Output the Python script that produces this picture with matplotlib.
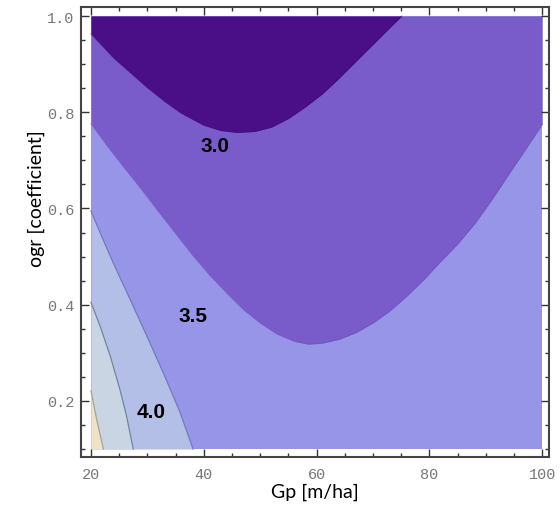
import numpy as np
import matplotlib
matplotlib.use("Agg")
import matplotlib.pyplot as plt

# plotted range of the contour map
gp_range = [20, 100]
ogr_range = [0.1, 1.0]

# contour 3.0 (dark / medium border), ogr as a function of Gp
gp_30 = [20, 22, 24, 27, 30, 33, 36, 40, 43, 46, 49, 52, 55, 58, 61, 64, 67, 70, 73, 75.1]
ogr_30 = [0.963, 0.938, 0.913, 0.882, 0.851, 0.823, 0.798, 0.773, 0.762, 0.758,
          0.760, 0.769, 0.787, 0.811, 0.838, 0.871, 0.906, 0.941, 0.976, 1.0]

# contour 3.5 (medium / light border)
gp_35 = [20, 23, 26, 29, 32, 35, 38, 41, 44, 47, 50, 53, 56, 58.5, 61, 64, 67,
         70, 73, 76, 79, 82, 85, 88, 91, 94, 97, 100]
ogr_35 = [0.776, 0.728, 0.683, 0.639, 0.593, 0.548, 0.503, 0.462, 0.425, 0.390,
          0.362, 0.339, 0.324, 0.318, 0.320, 0.328, 0.342, 0.362, 0.387, 0.418,
          0.452, 0.490, 0.526, 0.568, 0.617, 0.670, 0.722, 0.775]

# lower-left contours, Gp as a function of ogr
ogr_40 = [0.595, 0.550, 0.488, 0.412, 0.335, 0.259, 0.176, 0.100]
gp_40 = [20.0, 21.6, 23.9, 26.9, 29.9, 32.8, 35.8, 38.1]

ogr_45 = [0.405, 0.356, 0.294, 0.225, 0.169, 0.100]
gp_45 = [20.0, 21.6, 23.4, 25.1, 26.3, 27.5]

ogr_50 = [0.221, 0.162, 0.100]
gp_50 = [20.0, 21.0, 22.2]

labels = ["3.0", "3.5", "4.0"]
label_gp = [41.9, 38.1, 30.6]
label_ogr = [0.730, 0.377, 0.177]

fig = plt.figure(figsize=(5.6, 5.06), dpi=100)
ax = fig.add_axes([81 / 560, 1 - 458 / 506, 468 / 560, 450.5 / 506])

ax.fill_between(gp_range, ogr_range[0], ogr_range[1], color="#9795e8", lw=0)
ax.fill_between(gp_35, ogr_35, ogr_range[1], color="#795cc9", lw=0)
ax.fill_between(gp_30, ogr_30, ogr_range[1], color="#4a0e86", lw=0)
ax.fill_betweenx(ogr_40, gp_range[0], gp_40, color="#b4bfe8", lw=0)
ax.fill_betweenx(ogr_45, gp_range[0], gp_45, color="#c9d5e3", lw=0)
ax.fill_betweenx(ogr_50, gp_range[0], gp_50, color="#efe2c8", lw=0)

ax.plot(gp_35, ogr_35, color="#6a55b8", lw=0.8, alpha=0.5)
ax.plot(gp_30, ogr_30, color="#3f0c75", lw=0.8, alpha=0.5)
ax.plot(gp_40, ogr_40, color="#7478b8", lw=0.9)
ax.plot(gp_45, ogr_45, color="#7482a0", lw=0.9)
ax.plot(gp_50, ogr_50, color="#a8a290", lw=0.9)

for t, x, y in zip(labels, label_gp, label_ogr):
    ax.text(x, y, t, ha="center", va="center", fontsize=15,
            fontweight="bold", family="Liberation Sans", color="black")

ax.set_xlim(18.23, 101.2)
ax.set_ylim(0.0834, 1.0198)
ax.set_xticks([20, 40, 60, 80, 100])
ax.set_xticks(np.arange(20, 101, 5), minor=True)
ax.set_yticks([0.2, 0.4, 0.6, 0.8, 1.0])
ax.set_yticklabels(["0.2", "0.4", "0.6", "0.8", "1.0"])
ax.set_yticks(np.arange(0.1, 1.001, 0.05), minor=True)
ax.tick_params(which="both", direction="in", top=True, right=True,
               color="#333333", width=1)
ax.tick_params(which="major", length=6, labelsize=11, labelcolor="#777777")
ax.tick_params(axis="x", which="major", pad=7)
ax.tick_params(axis="y", which="major", pad=5)
ax.tick_params(which="minor", length=3)
for lab in ax.get_xticklabels() + ax.get_yticklabels():
    lab.set_family("Liberation Mono")
for sp in ax.spines.values():
    sp.set_linewidth(1.5)
    sp.set_color("#444444")

ax.set_xlabel("Gp [m/ha]", fontsize=14, family="Lato")
ax.set_ylabel("ogr [coefficient]", fontsize=14, family="Lato")
ax.xaxis.set_label_coords(0.5, -0.058)
ax.yaxis.set_label_coords(-0.077, 0.575)

fig.savefig("out.png", dpi=100)
